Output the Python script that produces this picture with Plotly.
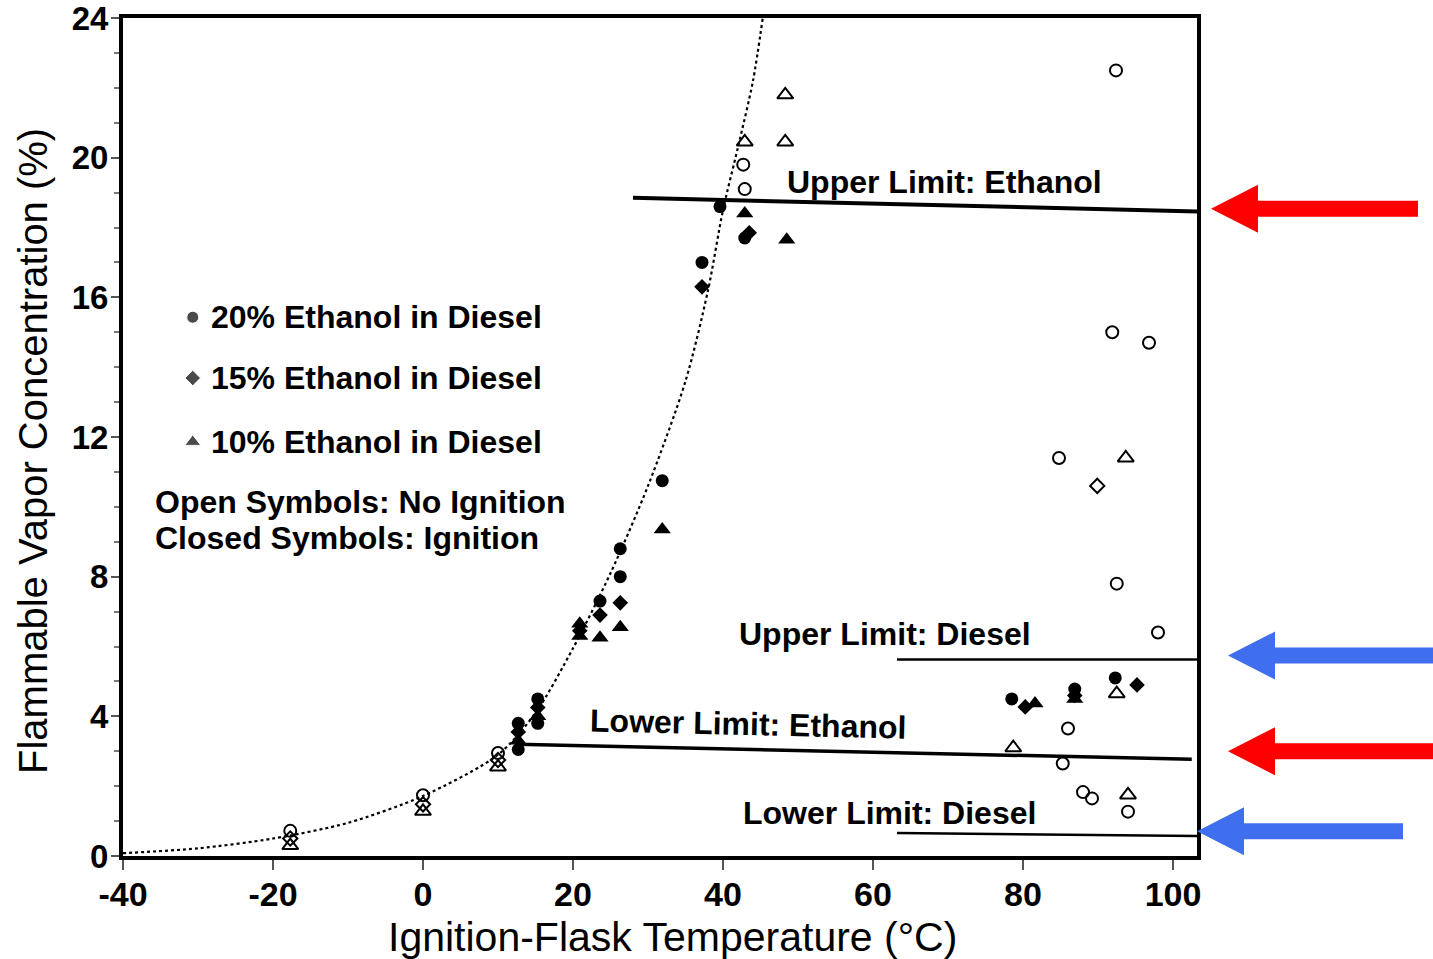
import plotly.graph_objects as go

# ---------------- data ----------------
# dotted trend curve
curve_x = [-40, -30, -20, -10, 0, 10, 15, 20, 25, 30, 35, 38, 40, 42, 44, 45.3]
curve_y = [0.08, 0.22, 0.5, 0.95, 1.72, 2.9, 4.1, 5.95, 8.1, 10.6, 13.6, 16.2, 18.5, 20.3, 22.2, 24.0]

# 20% ethanol (circles)
c20_ign_x = [12.7, 12.7, 15.3, 15.3, 23.6, 26.3, 26.3, 31.9, 37.2, 39.6, 42.9, 78.5, 86.9, 92.3]
c20_ign_y = [3.8, 3.05, 4.5, 3.8, 7.3, 8.8, 8.0, 10.75, 17.0, 18.6, 17.7, 4.5, 4.78, 5.1]
c20_no_x = [-17.7, 0, 10, 42.9, 42.7, 92.4, 91.9, 96.8, 84.8, 92.5, 98.0, 86.0, 85.3, 88.0, 89.2, 94.0]
c20_no_y = [0.72, 1.74, 2.95, 19.1, 19.8, 22.5, 15.0, 14.7, 11.4, 7.8, 6.4, 3.65, 2.65, 1.83, 1.65, 1.27]

# 15% ethanol (diamonds)
d15_ign_x = [12.7, 15.3, 20.9, 23.6, 26.3, 37.2, 43.5, 80.3, 86.9, 95.2]
d15_ign_y = [3.55, 4.25, 6.45, 6.9, 7.25, 16.3, 17.85, 4.27, 4.6, 4.9]
d15_no_x = [-17.7, 0, 10, 89.9]
d15_no_y = [0.5, 1.48, 2.75, 10.6]

# 10% ethanol (triangles)
t10_ign_x = [12.7, 15.3, 20.9, 20.9, 23.6, 26.3, 31.9, 42.9, 48.5, 81.6, 86.9]
t10_ign_y = [3.3, 4.0, 6.65, 6.3, 6.25, 6.55, 9.35, 18.4, 17.65, 4.37, 4.5]
t10_no_x = [-17.7, 0, 10, 42.9, 48.3, 48.3, 93.7, 92.5, 78.7, 94.0]
t10_no_y = [0.3, 1.28, 2.55, 20.45, 20.45, 21.8, 11.4, 4.65, 3.1, 1.75]

# flammability limit lines (start/end)
limit_names = ["Upper Limit: Ethanol", "Upper Limit: Diesel", "Lower Limit: Ethanol", "Lower Limit: Diesel"]
limit_x = [[28.0, 103.2], [63.2, 103.2], [12.5, 102.5], [63.2, 103.2]]
limit_y = [[18.85, 18.46], [5.63, 5.63], [3.2, 2.77], [0.66, 0.57]]

x_tick_vals = [-40, -20, 0, 20, 40, 60, 80, 100]
y_tick_vals = [0, 4, 8, 12, 16, 20, 24]

# ---------------- styling ----------------
FONT = "Liberation Sans, Arial, Helvetica, sans-serif"
X_MIN, X_MAX = -40, 103.2
Y_MIN, Y_MAX = 0, 24
M_L, M_R, M_T, M_B = 123, 236, 18, 103
W, H = 1433, 959
PW = W - M_L - M_R
PH = H - M_T - M_B

fig = go.Figure()

fig.add_trace(go.Scatter(x=curve_x, y=curve_y, mode="lines",
                         line=dict(color="black", width=2.2, dash="dot", shape="spline", smoothing=0.8),
                         hoverinfo="skip"))

lw_lim = [4, 2.5, 3.5, 2.5]
for nm, lx, ly, w in zip(limit_names, limit_x, limit_y, lw_lim):
    fig.add_trace(go.Scatter(x=lx, y=ly, mode="lines", name=nm,
                             line=dict(color="black", width=w)))

def pts(x, y, sym, size, filled):
    if filled:
        mk = dict(symbol=sym, size=size, color="black", line=dict(width=0))
    else:
        mk = dict(symbol=sym + "-open", size=size, color="black", line=dict(width=2, color="black"))
    fig.add_trace(go.Scatter(x=x, y=y, mode="markers", marker=mk, cliponaxis=False))

pts(c20_no_x, c20_no_y, "circle", 12, False)
pts(d15_no_x, d15_no_y, "diamond", 11, False)
pts(t10_no_x, t10_no_y, "triangle-up", 14, False)
pts(c20_ign_x, c20_ign_y, "circle", 13, True)
pts(d15_ign_x, d15_ign_y, "diamond", 12, True)
pts(t10_ign_x, t10_ign_y, "triangle-up", 15, True)

# in-plot key
key_labels = ["20% Ethanol in Diesel", "15% Ethanol in Diesel", "10% Ethanol in Diesel"]
key_symbols = ["circle", "diamond", "triangle-up"]
key_y = [15.43, 13.69, 11.86]
key_mx = [-30.7, -30.7, -30.7]
fig.add_trace(go.Scatter(x=key_mx, y=key_y, mode="markers",
                         marker=dict(symbol=key_symbols, size=[12, 12, 14], color="black")))

TXT = dict(family=FONT, size=32, color="black", weight="bold")
annots = []
for lab, yy in zip(key_labels, key_y):
    annots.append(dict(x=-28.6, y=yy, text=lab, xanchor="left", yanchor="middle", showarrow=False, font=TXT))
annots.append(dict(x=-36.0, y=10.14, text="Open Symbols: No Ignition", xanchor="left", yanchor="middle",
                   showarrow=False, font=TXT))
annots.append(dict(x=-36.0, y=9.11, text="Closed Symbols: Ignition", xanchor="left", yanchor="middle",
                   showarrow=False, font=TXT))

label_pos = [(48.3, 19.29, 0), (41.9, 6.37, 0), (21.9, 3.77, 1.3), (42.4, 1.23, 0)]
for nm, (lx, ly, ang) in zip(limit_names, label_pos):
    annots.append(dict(x=lx, y=ly, text=nm, xanchor="left", yanchor="middle", showarrow=False,
                       textangle=ang, font=TXT))

# axis titles as annotations (slightly off-centre in the reference)
annots.append(dict(xref="paper", yref="paper", x=(672 - M_L) / PW, y=(H - M_B - 937) / PH,
                   text="Ignition-Flask Temperature (°C)", showarrow=False,
                   xanchor="center", yanchor="middle",
                   font=dict(family=FONT, size=41, color="black")))
annots.append(dict(xref="paper", yref="paper", x=(33 - M_L) / PW, y=(H - M_B - 451) / PH,
                   text="Flammable Vapor Concentration (%)", showarrow=False, textangle=-90,
                   xanchor="center", yanchor="middle",
                   font=dict(family=FONT, size=40, color="black")))

# coloured arrows pointing at the limit lines (outside the plot, right side)
def px2paper(px):
    return (px - M_L) / PW

def pxh(p):
    return p * (Y_MAX - Y_MIN) / PH

arrows = [  # (y value, tip px, tail px, colour)
    (18.54, 1211, 1418, "#FF0000"),
    (5.74, 1228, 1440, "#3F6FEF"),
    (3.0, 1228, 1440, "#FF0000"),
    (0.71, 1197, 1403, "#3F6FEF"),
]
shapes = []
for yv, tip, tail, col in arrows:
    base = tip + 47
    hh = pxh(24)
    sh = pxh(8)
    path = (f"M {px2paper(tip)} {yv} L {px2paper(base)} {yv + hh} L {px2paper(base)} {yv + sh} "
            f"L {px2paper(tail)} {yv + sh} L {px2paper(tail)} {yv - sh} L {px2paper(base)} {yv - sh} "
            f"L {px2paper(base)} {yv - hh} Z")
    shapes.append(dict(type="path", xref="paper", yref="y", path=path,
                       fillcolor=col, line=dict(width=0), layer="above"))

fig.update_layout(
    width=W, height=H,
    margin=dict(l=M_L, r=M_R, t=M_T, b=M_B, autoexpand=False),
    paper_bgcolor="white", plot_bgcolor="white",
    showlegend=False,
    annotations=annots,
    shapes=shapes,
    font=dict(family=FONT, color="black"),
)

fig.update_xaxes(range=[X_MIN, X_MAX], tickvals=x_tick_vals,
                 ticktext=[str(v) for v in x_tick_vals],
                 showgrid=False, zeroline=False, ticklabeloverflow="allow",
                 ticklabelstandoff=-5,
                 showline=True, linewidth=4, linecolor="black", mirror=True,
                 ticks="outside", ticklen=10, tickwidth=2, tickcolor="#555",
                 tickfont=dict(family=FONT, size=34, color="black", weight="bold"))

fig.update_yaxes(range=[Y_MIN, Y_MAX], tickvals=y_tick_vals,
                 ticktext=[str(v) for v in y_tick_vals],
                 showgrid=False, zeroline=False, ticklabeloverflow="allow",
                 ticklabelstandoff=-4,
                 showline=True, linewidth=4, linecolor="black", mirror=True,
                 ticks="outside", ticklen=8, tickwidth=2, tickcolor="#555",
                 minor=dict(dtick=1, ticks="outside", ticklen=5, tickwidth=1.5, tickcolor="#777"),
                 tickfont=dict(family=FONT, size=33, color="black", weight="bold"))

fig.write_html("out.html", config={"displayModeBar": False},
               post_script="document.body.style.margin='0';document.body.style.overflow='hidden';")
